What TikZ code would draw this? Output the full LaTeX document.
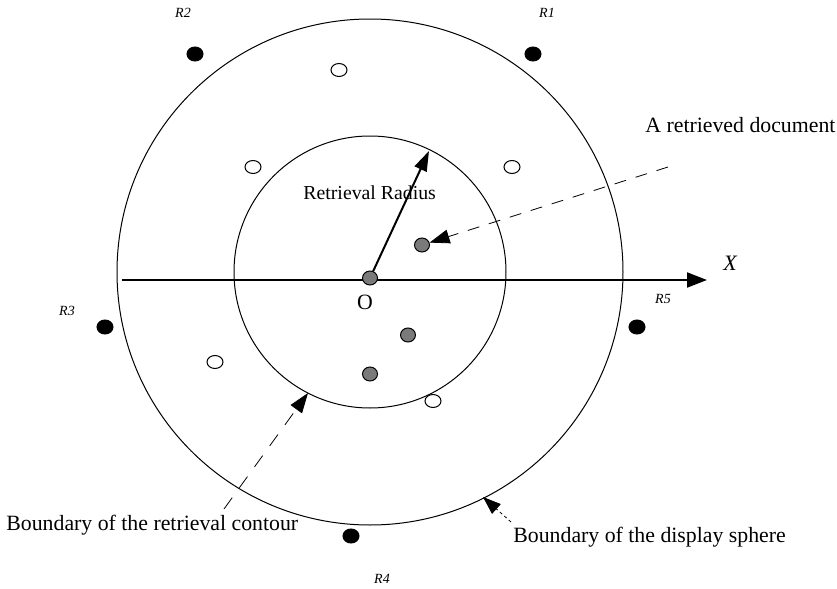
\documentclass[tikz,border=0pt]{standalone}
\usepackage{fontspec}
\setmainfont{Liberation Serif}
\usetikzlibrary{positioning, arrows.meta, shapes.geometric}

\begin{document}
\begin{tikzpicture}[x=0.5pt, y=-0.5pt,
  lbl/.style={font=\fontsize{10.9}{13}\selectfont, inner sep=0pt},
  rlbl/.style={font=\fontsize{7}{8}\selectfont\itshape, inner sep=0pt},
  dot/.style={ellipse, draw, inner sep=0pt, line width=0.5pt},
  refdot/.style={dot, fill=black, minimum width=8pt, minimum height=7pt},
  emptydot/.style={dot, fill=white, minimum width=8pt, minimum height=6.5pt},
  docdot/.style={dot, fill=black!52, minimum width=7.5pt, minimum height=7pt},
  tip/.style={-{Triangle[length=10pt, width=7pt]}}]
  \useasboundingbox (0,0) rectangle (837,589);
  % display sphere and retrieval contour
  \coordinate (c) at (370,272);
  \draw[line width=0.5pt] (c) circle[radius=126.5pt];
  \draw[line width=0.5pt] (c) circle[radius=68pt];
  % axis
  \coordinate (xs) at (122,280);
  \coordinate (xe) at (707,280);
  \draw[line width=1pt, -{Triangle[length=10pt, width=7.5pt]}] (xs) -- (xe);
  \node[lbl, font=\fontsize{11}{13}\selectfont\itshape] (xlab) at (730,263) {X};
  % reference points
  \node[refdot] (r1) at (533,54) {};
  \node[refdot] (r2) at (195,54) {};
  \node[refdot] (r3) at (105,327) {};
  \node[refdot] (r4) at (351,536) {};
  \node[refdot] (r5) at (637,327) {};
  \node[rlbl] at (547,13) {R1};
  \node[rlbl] at (183,13) {R2};
  \node[rlbl] at (67,311) {R3};
  \node[rlbl] at (382,579) {R4};
  \node[rlbl] at (663,299) {R5};
  % documents outside the contour
  \foreach \px/\py in {339/70, 253/167, 512/167, 215/362, 433/401}
    \node[emptydot] at (\px,\py) {};
  % retrieved documents
  \node[docdot] (o) at (370,278) {};
  \node[docdot] (doc) at (422,245) {};
  \node[docdot] (d2) at (408,335) {};
  \node[docdot] (d3) at (370,374) {};
  \node[lbl] (olab) at (365,302) {O};
  % retrieval radius
  \coordinate (rim) at (429,151);
  \draw[line width=1pt, -{Triangle[length=10pt, width=6.5pt]}] (o) -- (rim);
  \node[lbl, font=\fontsize{9.9}{12}\selectfont, anchor=west] (radlab) at (303,193) {Retrieval Radius};
  % labels with pointers
  \node[lbl, anchor=west] (doclab) at (645,125) {A retrieved document};
  \coordinate (docend) at (668,167);
  \draw[dash pattern=on 6pt off 5pt, tip] (docend) -- (doc);
  \node[lbl, anchor=west] (bclab) at (6,525) {Boundary of the retrieval contour};
  \coordinate (bcend) at (224,509);
  \coordinate (bctip) at (308,393);
  \draw[dash pattern=on 7pt off 6pt, tip] (bcend) -- (bctip);
  \node[lbl, anchor=west] (bslab) at (513,537) {Boundary of the display sphere};
  \coordinate (bsend) at (511,522);
  \coordinate (bstip) at (483,497);
  \draw[dash pattern=on 1.5pt off 1.5pt, -{Triangle[length=9pt, width=6.5pt]}] (bsend) -- (bstip);
\end{tikzpicture}
\end{document}
